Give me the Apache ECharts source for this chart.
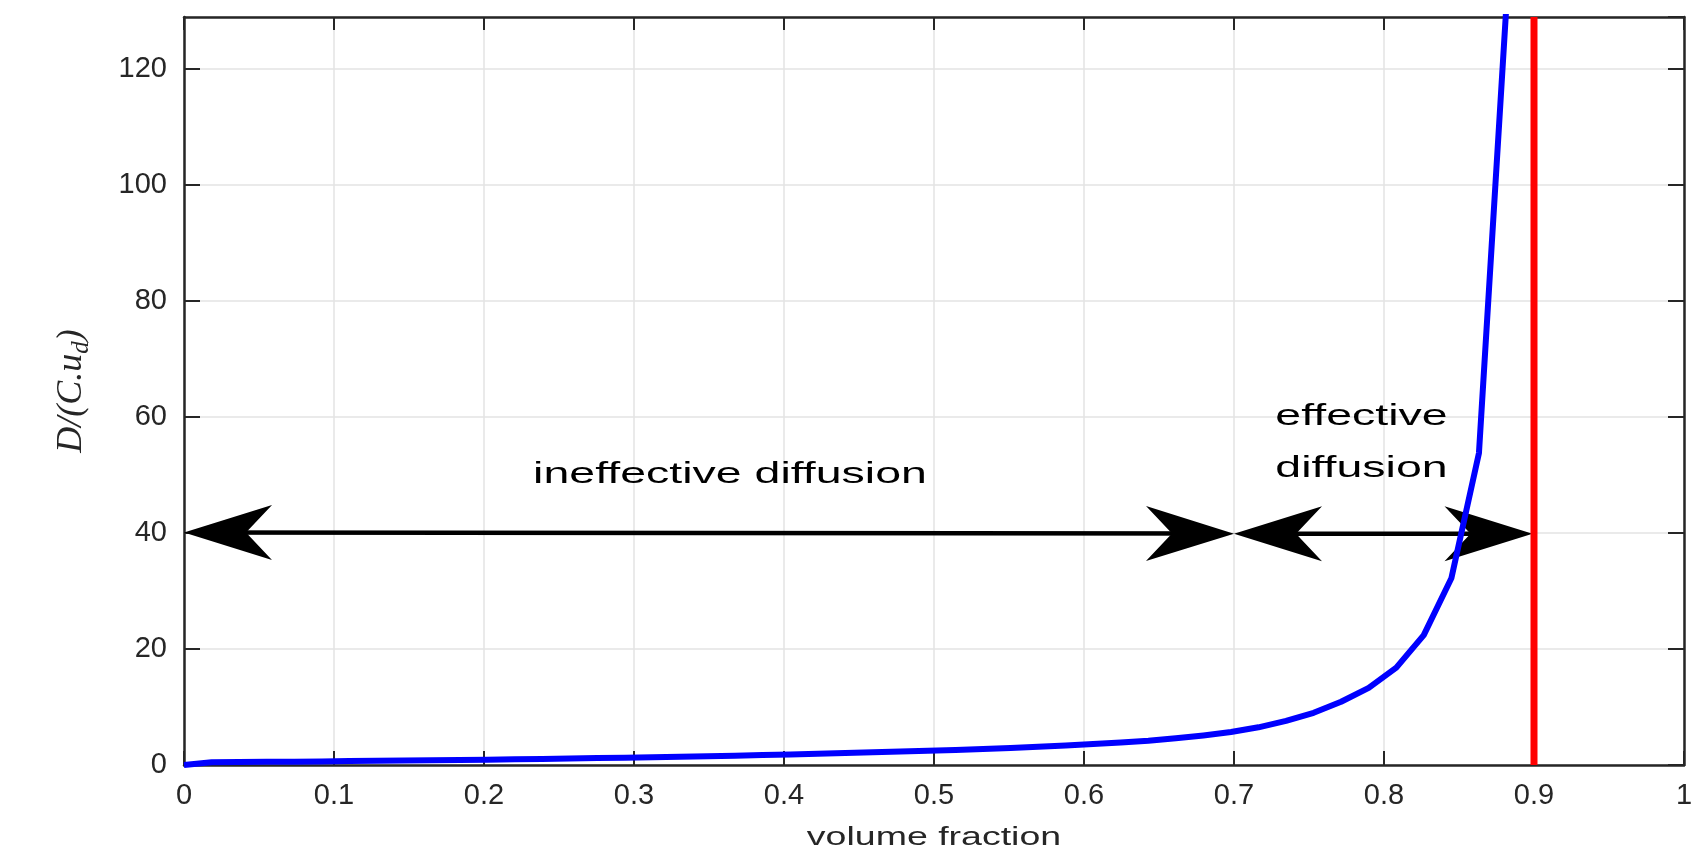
<!DOCTYPE html>
<html>
<head>
<meta charset="utf-8">
<style>
  html, body { margin: 0; padding: 0; background: #ffffff; }
  #chart { width: 1693px; height: 852px; }
</style>
<script src="https://cdn.jsdelivr.net/npm/echarts@6/dist/echarts.min.js"></script>
</head>
<body>
<div id="chart"></div>
<script>
// ---- data ----
const volumeFraction = [0, 0.0184, 0.0367, 0.0551, 0.0735, 0.0918, 0.1102, 0.1286, 0.1469, 0.1653,
  0.1837, 0.2020, 0.2204, 0.2388, 0.2571, 0.2755, 0.2939, 0.3122, 0.3306, 0.3490,
  0.3673, 0.3857, 0.4041, 0.4224, 0.4408, 0.4592, 0.4776, 0.4959, 0.5143, 0.5327,
  0.5510, 0.5694, 0.5878, 0.6061, 0.6245, 0.6429, 0.6612, 0.6796, 0.6980, 0.7163,
  0.7347, 0.7531, 0.7714, 0.7898, 0.8082, 0.8265, 0.8449, 0.8633, 0.8816];
const diffusionRatio = [0, 0.46, 0.50, 0.54, 0.58, 0.62, 0.67, 0.72, 0.77, 0.82,
  0.87, 0.92, 0.98, 1.04, 1.11, 1.19, 1.27, 1.35, 1.43, 1.52,
  1.61, 1.71, 1.82, 1.93, 2.05, 2.18, 2.31, 2.45, 2.60, 2.77,
  2.95, 3.15, 3.37, 3.61, 3.88, 4.18, 4.60, 5.10, 5.70, 6.50,
  7.60, 9.00, 10.9, 13.3, 16.8, 22.4, 32.2, 53.8, 131];
const limitFraction = 0.9;              // red vertical line
const limitSpan = [0, 129];             // red line from bottom to top of the axes
const arrowStart = [[0, 40.1], [0.7, 39.9]];
const arrowEnd = [[0.7, 39.9], [0.899, 39.9]];
const annotationTexts = ['ineffective diffusion', 'effective', 'diffusion'];
const annotationAnchors = [[0.364, 50.1], [0.785, 60.1], [0.785, 51.1]];
const xTicks = [0, 0.1, 0.2, 0.3, 0.4, 0.5, 0.6, 0.7, 0.8, 0.9, 1];
const yTicks = [0, 20, 40, 60, 80, 100, 120];
const xTitle = 'volume fraction';

// ---- chart ----
const chart = echarts.init(document.getElementById('chart'));
const FONT = "'Liberation Sans', Arial, Helvetica, sans-serif";
const AXIS_COLOR = '#262626';
const GRID_COLOR = '#e3e3e3';

const curveData = volumeFraction.map((x, i) => [x, diffusionRatio[i]]);
const arrowData = arrowStart.map((s, i) => [s[0], s[1], arrowEnd[i][0], arrowEnd[i][1]]);

const baseX = {
  type: 'value', min: xTicks[0], max: xTicks[xTicks.length - 1], interval: 0.1
};
const baseY = {
  type: 'value', min: yTicks[0], max: limitSpan[1], interval: 20
};

const option = {
  animation: false,
  backgroundColor: '#ffffff',
  grid: { left: 184, right: 9, top: 17, bottom: 87, containLabel: false, outerBoundsMode: 'none' },
  xAxis: [
    Object.assign({}, baseX, {
      position: 'bottom',
      axisLine: { show: true, onZero: false, lineStyle: { color: AXIS_COLOR, width: 2.5 } },
      axisTick: { show: true, inside: true, length: 14, lineStyle: { color: AXIS_COLOR, width: 2 } },
      axisLabel: {
        show: true, margin: 16, fontSize: 29, fontFamily: FONT, color: AXIS_COLOR,
        formatter: v => xTicks.some(t => Math.abs(t - v) < 1e-9) ? String(+v.toFixed(1)) : ''
      },
      splitLine: { show: true, lineStyle: { color: GRID_COLOR, width: 1.5 } }
    }),
    Object.assign({}, baseX, {
      position: 'top',
      axisLine: { show: true, onZero: false, lineStyle: { color: AXIS_COLOR, width: 2.5 } },
      axisTick: { show: true, inside: true, length: 13, lineStyle: { color: AXIS_COLOR, width: 2 } },
      axisLabel: { show: false },
      splitLine: { show: false }
    })
  ],
  yAxis: [
    Object.assign({}, baseY, {
      position: 'left',
      name: '{i|D/(C.u}{s|d}{i|)}',
      nameLocation: 'middle',
      nameGap: 90,
      nameTextStyle: {
        rich: {
          i: { fontFamily: "'Liberation Serif', 'Times New Roman', serif", fontStyle: 'italic', fontSize: 36, color: AXIS_COLOR, lineHeight: 44 },
          s: { fontFamily: "'Liberation Serif', 'Times New Roman', serif", fontStyle: 'italic', fontSize: 25, color: AXIS_COLOR, verticalAlign: 'bottom', lineHeight: 25 }
        }
      },
      axisLine: { show: true, onZero: false, lineStyle: { color: AXIS_COLOR, width: 2.5 } },
      axisTick: { show: true, inside: true, length: 16, lineStyle: { color: AXIS_COLOR, width: 2 } },
      axisLabel: {
        show: true, margin: 17, fontSize: 29, fontFamily: FONT, color: AXIS_COLOR,
        showMaxLabel: false,
        formatter: v => yTicks.indexOf(v) >= 0 ? String(v) : ''
      },
      splitLine: { show: true, lineStyle: { color: GRID_COLOR, width: 1.5 } }
    }),
    Object.assign({}, baseY, {
      position: 'right',
      axisLine: { show: true, onZero: false, lineStyle: { color: AXIS_COLOR, width: 2.5 } },
      axisTick: { show: true, inside: true, length: 16, lineStyle: { color: AXIS_COLOR, width: 2 } },
      axisLabel: { show: false },
      splitLine: { show: false }
    })
  ],
  series: [
    {
      name: 'arrows',
      type: 'custom',
      xAxisIndex: 0, yAxisIndex: 0,
      encode: { x: [0, 2], y: [1, 3] },
      data: arrowData,
      z: 3,
      renderItem: function (params, api) {
        const p1 = api.coord([api.value(0), api.value(1)]);
        const p2 = api.coord([api.value(2), api.value(3)]);
        const dx = p2[0] - p1[0], dy = p2[1] - p1[1];
        const len = Math.sqrt(dx * dx + dy * dy);
        const ux = dx / len, uy = dy / len;
        const nx = -uy, ny = ux;
        const L = 88, W = 27.5, N = 62;
        function head(tip, d) {
          return [
            [tip[0], tip[1]],
            [tip[0] + d[0] * L + nx * W, tip[1] + d[1] * L + ny * W],
            [tip[0] + d[0] * N, tip[1] + d[1] * N],
            [tip[0] + d[0] * L - nx * W, tip[1] + d[1] * L - ny * W]
          ];
        }
        return {
          type: 'group',
          children: [
            { type: 'line', shape: { x1: p1[0] + ux * 20, y1: p1[1] + uy * 20, x2: p2[0] - ux * 20, y2: p2[1] - uy * 20 },
              style: { stroke: '#000000', lineWidth: 4.5 } },
            { type: 'polygon', shape: { points: head(p1, [ux, uy]) }, style: { fill: '#000000' } },
            { type: 'polygon', shape: { points: head(p2, [-ux, -uy]) }, style: { fill: '#000000' } }
          ]
        };
      }
    },
    {
      name: 'D/(C.ud)',
      type: 'line',
      xAxisIndex: 0, yAxisIndex: 0,
      data: curveData,
      showSymbol: false,
      clip: true,
      z: 4,
      lineStyle: { color: '#0000ff', width: 6, join: 'round' },
      itemStyle: { color: '#0000ff' }
    },
    {
      name: 'limit',
      type: 'line',
      xAxisIndex: 0, yAxisIndex: 0,
      data: limitSpan.map(v => [limitFraction, v]),
      showSymbol: false,
      clip: true,
      z: 5,
      lineStyle: { color: '#ff0000', width: 7 },
      itemStyle: { color: '#ff0000' }
    }
  ]
};
chart.setOption(option);

// annotations placed through the chart's own coordinate conversion
const graphics = annotationTexts.map((t, i) => {
  const p = chart.convertToPixel({ gridIndex: 0 }, annotationAnchors[i]);
  return {
    type: 'text', x: p[0], y: p[1], scaleX: 1.55, z: 10,
    style: { text: t, fontSize: 30, fontFamily: FONT, fill: '#000000', align: 'center', verticalAlign: 'middle' }
  };
});
const xMid = chart.convertToPixel({ xAxisIndex: 0 }, 0.5);
const yBottom = chart.convertToPixel({ yAxisIndex: 0 }, 0);
graphics.push({
  type: 'text', x: xMid, y: yBottom + 73, scaleX: 1.5, z: 10,
  style: { text: xTitle, fontSize: 25, fontFamily: FONT, fill: AXIS_COLOR, align: 'center', verticalAlign: 'middle' }
});
chart.setOption({ graphic: graphics });
</script>
</body>
</html>
